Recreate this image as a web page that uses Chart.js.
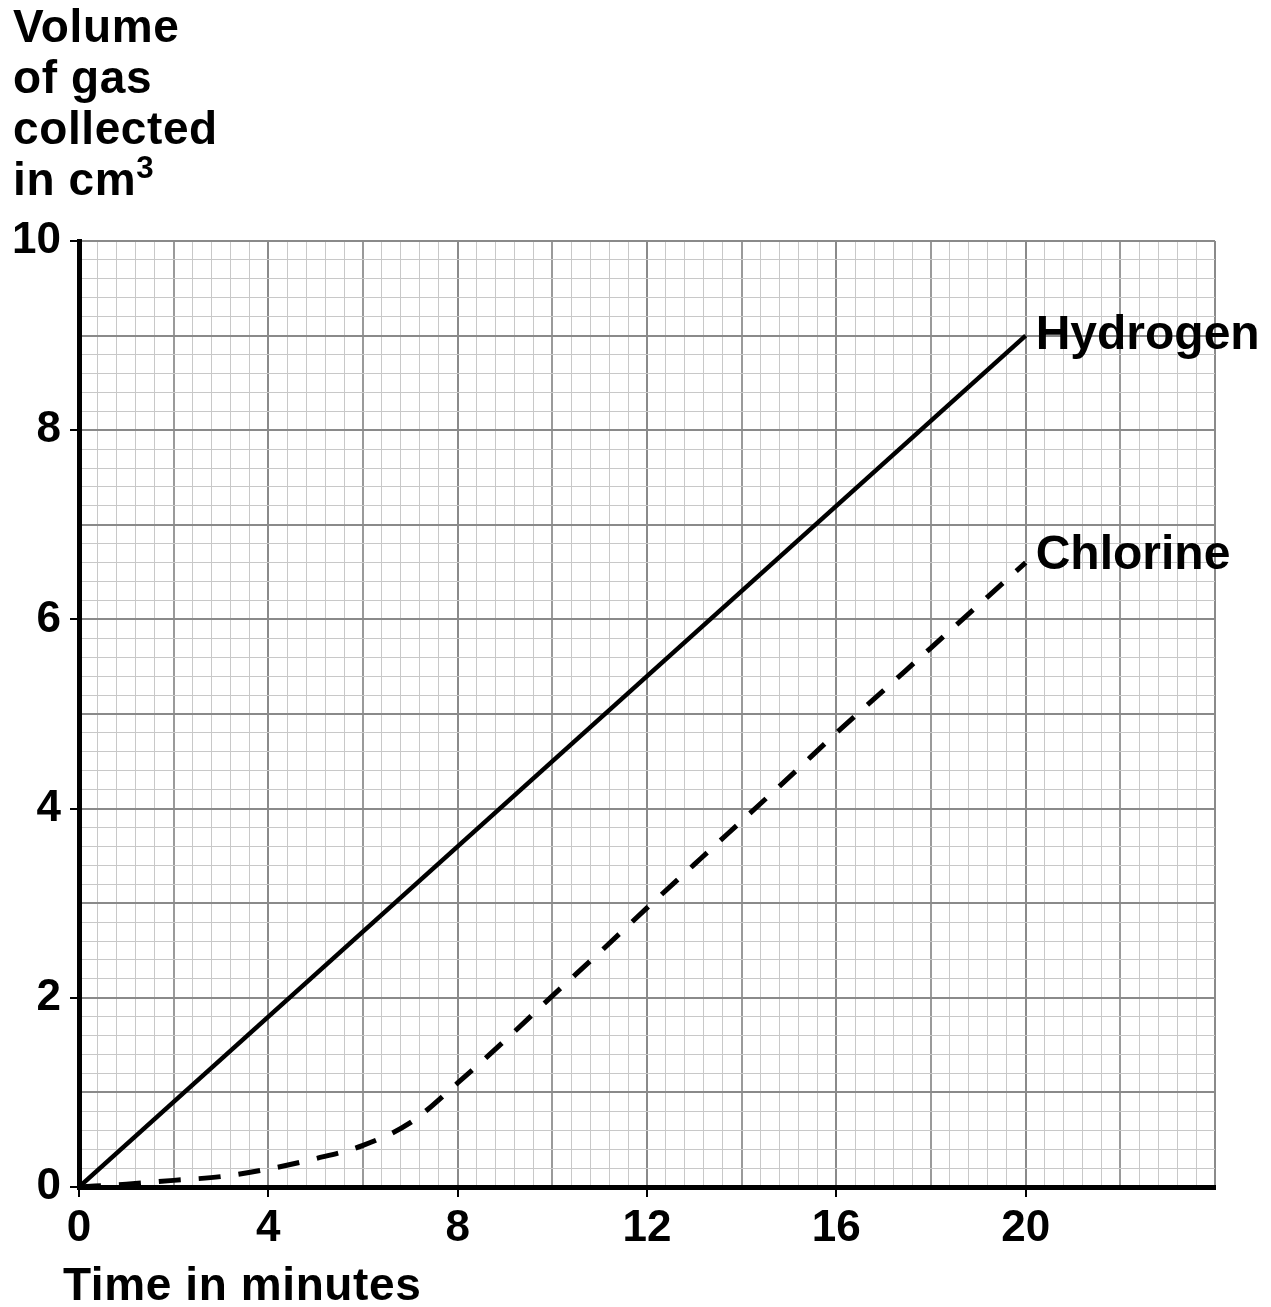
<!DOCTYPE html>
<html>
<head>
<meta charset="utf-8">
<script src="https://cdn.jsdelivr.net/npm/chart.js@4/dist/chart.umd.min.js"></script>
<style>
  body { margin: 0; background: #fff; }
  #wrap { position: relative; width: 1271px; height: 1307px; }
  .lbl { position: absolute; font-family: "Liberation Sans", Arial, sans-serif; font-weight: bold; font-size: 46px; letter-spacing: 0.6px; line-height: 51px; color: #000; white-space: nowrap; }
  .lbl sup { font-size: 0.68em; line-height: 0; vertical-align: 0.55em; }
</style>
</head>
<body>
<div id="wrap">
  <canvas id="gasChart" width="1271" height="1307"></canvas>
  <div class="lbl" id="yTitle" style="left:13px; top:1px;">Volume<br>of gas<br>collected<br>in cm<sup>3</sup></div>
  <div class="lbl" id="xTitle" style="left:63px; top:1259px;">Time in minutes</div>
</div>
<script>
// Data
const seriesNames = ['Hydrogen', 'Chlorine'];
const hydrogenTime = [0, 20];
const hydrogenVolume = [0, 9];
const chlorineTime = [0, 1, 2, 3, 4, 5, 6, 7, 8, 9, 10, 11, 12, 13, 14, 15, 16, 17, 18, 19, 20];
const chlorineVolume = [0, 0.03, 0.07, 0.11, 0.19, 0.3, 0.44, 0.68, 1.1, 1.55, 2.02, 2.48, 2.95, 3.41, 3.87, 4.33, 4.8, 5.25, 5.7, 6.15, 6.6];

// axis tick labels
const xTickLabels = [0, 4, 8, 12, 16, 20];
const yTickLabels = [0, 2, 4, 6, 8, 10];

const FONT = '"Liberation Sans", Arial, sans-serif';

function toPoints(xs, ys) {
    return xs.map((x, i) => ({ x: x, y: ys[i] }));
}

// Write the series name next to the end of each line
const endLabels = {
    id: 'endLabels',
    afterDatasetsDraw(chart) {
        const ctx = chart.ctx;
        const offsets = [0, -7];
        ctx.save();
        ctx.font = 'bold 48px ' + FONT;
        ctx.fillStyle = '#000';
        ctx.textAlign = 'left';
        ctx.textBaseline = 'middle';
        chart.data.datasets.forEach((ds, i) => {
            const pts = chart.getDatasetMeta(i).data;
            const last = pts[pts.length - 1];
            ctx.fillText(seriesNames[i], last.x + 10, last.y + offsets[i]);
        });
        ctx.restore();
    }
};

const xIsLabel = v => xTickLabels.some(t => Math.abs(t - v) < 1e-6);
const yIsLabel = v => yTickLabels.some(t => Math.abs(t - v) < 1e-6);
const isMult = (v, m) => Math.abs(v / m - Math.round(v / m)) < 1e-6;

const chart = new Chart(document.getElementById('gasChart').getContext('2d'), {
    type: 'line',
    data: {
        datasets: [{
            label: seriesNames[0],
            data: toPoints(hydrogenTime, hydrogenVolume),
            borderColor: '#000',
            borderWidth: 4.5,
            pointRadius: 0,
            fill: false
        },
        {
            label: seriesNames[1],
            data: toPoints(chlorineTime, chlorineVolume),
            borderColor: '#000',
            borderWidth: 5,
            borderDash: [22, 18],
            pointRadius: 0,
            cubicInterpolationMode: 'monotone',
            fill: false
        }]
    },
    options: {
        responsive: false,
        animation: false,
        devicePixelRatio: 1,
        layout: { padding: { left: 0, top: 241, right: 56, bottom: 50 } },
        plugins: {
            legend: { display: false },
            tooltip: { enabled: false }
        },
        scales: {
            x: {
                type: 'linear',
                min: 0,
                max: 24,
                ticks: {
                    stepSize: 0.4,
                    autoSkip: false,
                    maxRotation: 0,
                    padding: 5,
                    color: '#000',
                    font: { family: FONT, size: 44, weight: 'bold' },
                    callback: v => xIsLabel(v) ? String(Math.round(v)) : ''
                },
                grid: {
                    color: c => isMult(c.tick.value, 4) ? '#8a8a8a' : (isMult(c.tick.value, 2) ? '#9a9a9a' : '#c8c8c8'),
                    lineWidth: c => isMult(c.tick.value, 2) ? 2 : 1,
                    tickColor: c => xIsLabel(c.tick.value) ? '#000' : 'rgba(0,0,0,0)',
                    tickLength: 10,
                    tickWidth: 2
                },
                border: { display: true, color: '#000', width: 5 },
                afterFit: s => { s.height = 70; }
            },
            y: {
                type: 'linear',
                min: 0,
                max: 10,
                ticks: {
                    stepSize: 0.2,
                    autoSkip: false,
                    padding: 9,
                    color: '#000',
                    font: { family: FONT, size: 44, weight: 'bold' },
                    callback: v => yIsLabel(v) ? String(Math.round(v)) : ''
                },
                grid: {
                    color: c => isMult(c.tick.value, 1) ? '#8a8a8a' : '#c8c8c8',
                    lineWidth: c => isMult(c.tick.value, 1) ? 2 : 1,
                    tickColor: c => yIsLabel(c.tick.value) ? '#000' : 'rgba(0,0,0,0)',
                    tickLength: 9,
                    tickWidth: 2
                },
                border: { display: true, color: '#000', width: 5 },
                afterFit: s => { s.width = 79; }
            }
        }
    },
    plugins: [endLabels]
});
</script>
</body>
</html>
